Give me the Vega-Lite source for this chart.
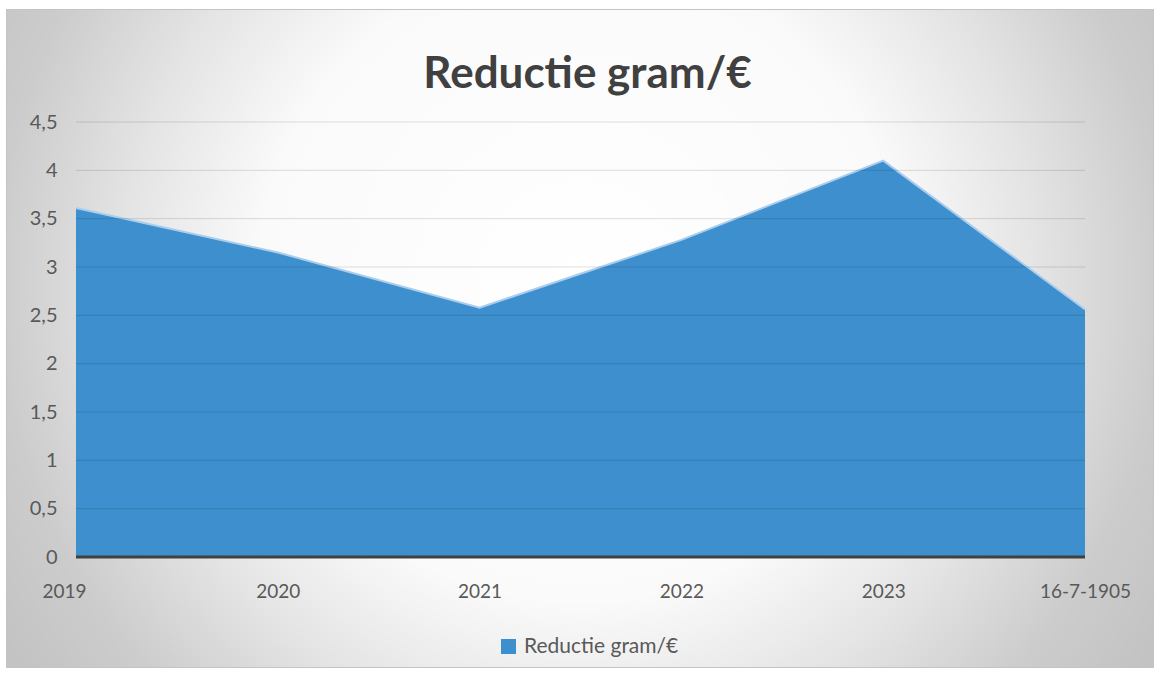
{
  "$schema": "https://vega.github.io/schema/vega-lite/v6.json",
  "autosize": "none",
  "width": 1147,
  "height": 658,
  "padding": {"left": 6, "top": 9, "right": 6, "bottom": 7},
  "background": "#ffffff",
  "config": {
    "font": "Lato",
    "view": {
      "stroke": "#c4c4c4",
      "strokeWidth": 1,
      "fill": {
        "gradient": "radial",
        "x1": 0.5, "y1": 0.45, "r1": 0,
        "x2": 0.5, "y2": 0.45, "r2": 0.62,
        "stops": [
          {"offset": 0, "color": "#ffffff"},
          {"offset": 0.45, "color": "#fafafa"},
          {"offset": 0.64, "color": "#e4e4e4"},
          {"offset": 0.82, "color": "#cccccc"},
          {"offset": 1, "color": "#c0c0c0"}
        ]
      }
    }
  },
  "title": {
    "text": "Reductie gram/€",
    "anchor": "middle",
    "frame": "group",
    "orient": "top",
    "offset": -123,
    "dx": 8,
    "baseline": "alphabetic",
    "font": "Lato",
    "fontSize": 44,
    "fontWeight": "bold",
    "color": "#404040"
  },
  "datasets": {
    "main": [
      {"jaar": "2019", "waarde": 3.61},
      {"jaar": "2020", "waarde": 3.15},
      {"jaar": "2021", "waarde": 2.58},
      {"jaar": "2022", "waarde": 3.28},
      {"jaar": "2023", "waarde": 4.1},
      {"jaar": "16-7-1905", "waarde": 2.56}
    ],
    "grid": [
      {"g": 0.5}, {"g": 1}, {"g": 1.5}, {"g": 2}, {"g": 2.5},
      {"g": 3}, {"g": 3.5}, {"g": 4}, {"g": 4.5}
    ]
  },
  "layer": [
    {
      "data": {"name": "main"},
      "mark": {"type": "area", "opacity": 1},
      "encoding": {
        "x": {
          "field": "jaar", "type": "nominal", "sort": null,
          "scale": {"type": "point", "range": [70, 1079], "padding": 0},
          "axis": {
            "orient": "bottom", "offset": -109, "title": null,
            "domain": false, "ticks": false, "labelAngle": 0,
            "labelPadding": 24, "labelFont": "Lato", "labelFontSize": 19,
            "labelColor": "#595959",
            "labelOffset": {"condition": {"test": "datum.label == '2019'", "value": -12}, "value": 0}
          }
        },
        "y": {
          "field": "waarde", "type": "quantitative",
          "scale": {"domain": [0, 4.5], "nice": false, "range": [548, 113]},
          "axis": {
            "orient": "left", "offset": -56, "title": null,
            "domain": false, "ticks": false, "grid": false,
            "values": [0, 0.5, 1, 1.5, 2, 2.5, 3, 3.5, 4, 4.5],
            "format": ",.1~f",
            "labelExpr": "replace(datum.label, '.', ',')",
            "labelPadding": 5, "labelFont": "Lato", "labelFontSize": 20,
            "labelColor": "#595959"
          }
        },
        "color": {
          "datum": "Reductie gram/€", "type": "nominal",
          "scale": {"range": ["#3e8fcd"]},
          "legend": {
            "title": null, "orient": "none", "legendX": 492, "legendY": 627,
            "symbolType": "square", "symbolSize": 225, "symbolStrokeWidth": 0,
            "labelFont": "Lato", "labelFontSize": 21, "labelColor": "#595959",
            "labelOffset": 5
          }
        }
      }
    },
    {
      "data": {"name": "main"},
      "mark": {"type": "line", "stroke": "#a9cdee", "strokeWidth": 2},
      "encoding": {
        "x": {"field": "jaar", "type": "nominal", "sort": null},
        "y": {"field": "waarde", "type": "quantitative"}
      }
    },
    {
      "data": {"name": "grid"},
      "mark": {"type": "rule", "stroke": "#000000", "strokeOpacity": 0.13, "strokeWidth": 1},
      "encoding": {
        "y": {"field": "g", "type": "quantitative"},
        "x": {"datum": "2019", "type": "nominal"},
        "x2": {"datum": "16-7-1905"}
      }
    },
    {
      "data": {"name": "grid"},
      "transform": [{"filter": "datum.g == 0.5"}],
      "mark": {"type": "rule", "stroke": "#404040", "strokeWidth": 3},
      "encoding": {
        "y": {"datum": 0, "type": "quantitative"},
        "x": {"datum": "2019", "type": "nominal"},
        "x2": {"datum": "16-7-1905"}
      }
    }
  ]
}
